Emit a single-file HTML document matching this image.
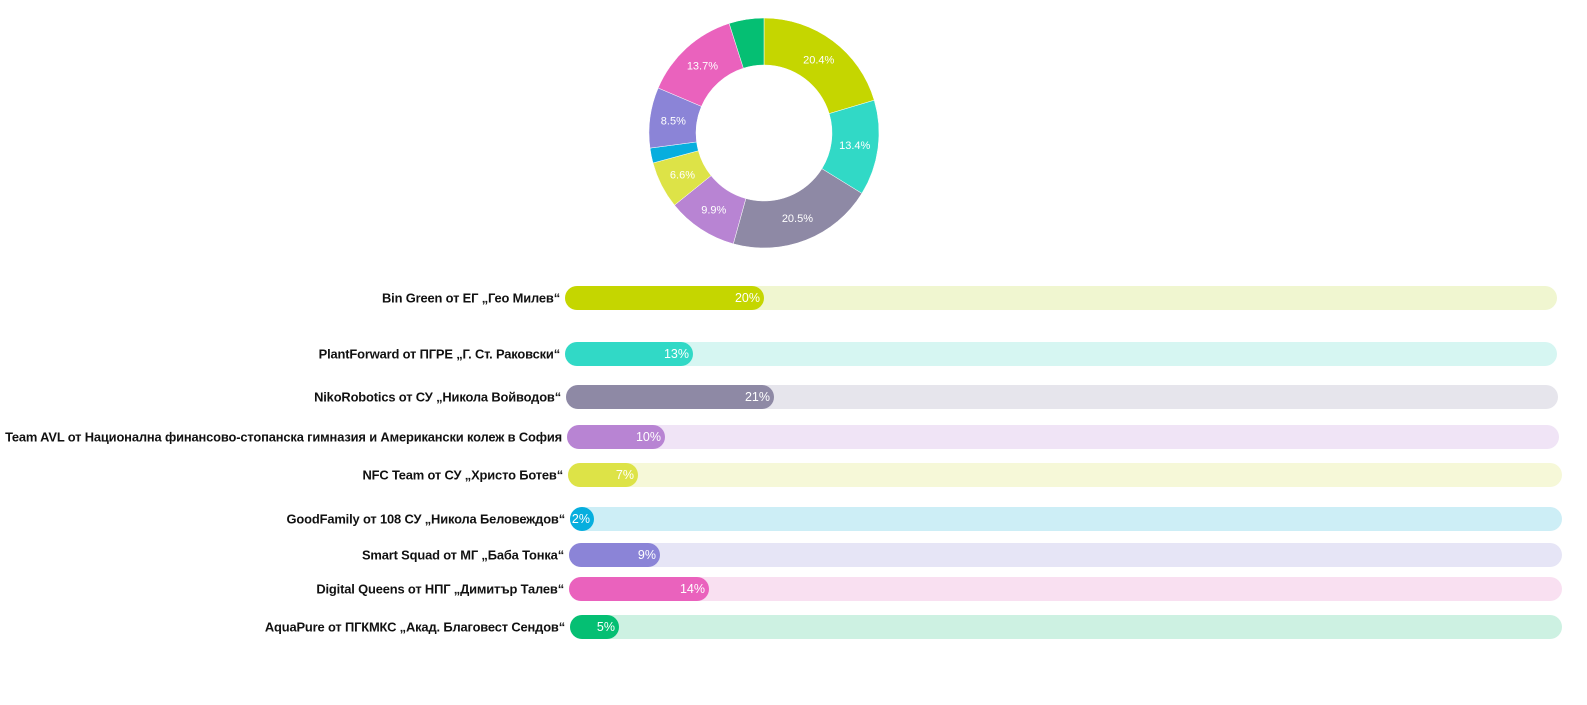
<!DOCTYPE html>
<html><head><meta charset="utf-8"><style>
body{margin:0;width:1587px;height:705px;background:#fff;position:relative;overflow:hidden;font-family:"Liberation Sans","DejaVu Sans",sans-serif}
.lab{position:absolute;font-weight:bold;font-size:12.9px;color:#111;white-space:nowrap;letter-spacing:-0.15px;transform:translateY(-50%)}
.tr{position:absolute;height:24px;border-radius:12px;transform:translateY(-50%)}
.fi{position:absolute;left:0;top:0;height:24px;border-radius:12px;color:#fff;font-size:12.5px;line-height:24px;text-align:right;box-sizing:border-box;padding-right:4px}
</style></head><body>
<svg id="d" width="1587" height="270" style="position:absolute;left:0;top:0"></svg>
<div id="bars"></div>
<script>
var cx=764,cy=133,R=115,r=68;
var sl=[[20.4,"#c5d600","20.4%"],[13.4,"#31d9c6","13.4%"],[20.5,"#8e89a5","20.5%"],[9.9,"#b884d3","9.9%"],[6.6,"#dde347","6.6%"],[2.1,"#07aede",""],[8.5,"#8b84d7","8.5%"],[13.7,"#ea62bd","13.7%"],[4.9,"#05bf73",""]];
var s="",a=0;
function p(ang,rad){return [cx+rad*Math.sin(ang),cy-rad*Math.cos(ang)];}
sl.forEach(function(x){var a0=a/100*2*Math.PI;a+=x[0];var a1=a/100*2*Math.PI;var lg=(a1-a0)>Math.PI?1:0;
var p0=p(a0,R),p1=p(a1,R),p2=p(a1,r),p3=p(a0,r);
s+='<path d="M'+p0+' A'+R+','+R+' 0 '+lg+' 1 '+p1+' L'+p2+' A'+r+','+r+' 0 '+lg+' 0 '+p3+'Z" fill="'+x[1]+'" stroke="#fff" stroke-width="0.5"/>';
if(x[2]){var m=p((a0+a1)/2,(R+r)/2);s+='<text x="'+m[0]+'" y="'+(m[1]+4)+'" fill="#fff" font-size="11" text-anchor="middle" font-family="Liberation Sans,sans-serif">'+x[2]+'</text>';}});
document.getElementById('d').innerHTML=s;
var rows=[["Bin Green от ЕГ „Гео Милев“",298,565,1557,199,"#c5d600","#f0f6d0","20%"],
["PlantForward от ПГРЕ „Г. Ст. Раковски“",354,565,1557,128,"#31d9c6","#d6f6f2","13%"],
["NikoRobotics от СУ „Никола Войводов“",397,566,1558,208,"#8e89a5","#e6e5ec","21%"],
["Team AVL от Национална финансово-стопанска гимназия и Американски колеж в София",437,567,1559,98,"#b884d3","#f0e4f6","10%"],
["NFC Team от СУ „Христо Ботев“",475,568,1562,70,"#dde347","#f6f8d8","7%"],
["GoodFamily от 108 СУ „Никола Беловеждов“",519,570,1562,24,"#07aede","#cdeef6","2%"],
["Smart Squad от МГ „Баба Тонка“",555,569,1562,91,"#8b84d7","#e6e5f6","9%"],
["Digital Queens от НПГ „Димитър Талев“",589,569,1562,140,"#ea62bd","#f9e0f1","14%"],
["AquaPure от ПГКМКС „Акад. Благовест Сендов“",627,570,1562,49,"#05bf73","#cdf1e2","5%"]];
var h="";
rows.forEach(function(q){h+='<div class="lab" style="top:'+q[1]+'px;right:'+(1587-q[2]+5)+'px">'+q[0]+'</div>';
h+='<div class="tr" style="top:'+q[1]+'px;left:'+q[2]+'px;width:'+(q[3]-q[2])+'px;background:'+q[6]+'"><div class="fi" style="width:'+q[4]+'px;background:'+q[5]+'">'+q[7]+'</div></div>';});
document.getElementById('bars').innerHTML=h;
</script>
</body></html>
